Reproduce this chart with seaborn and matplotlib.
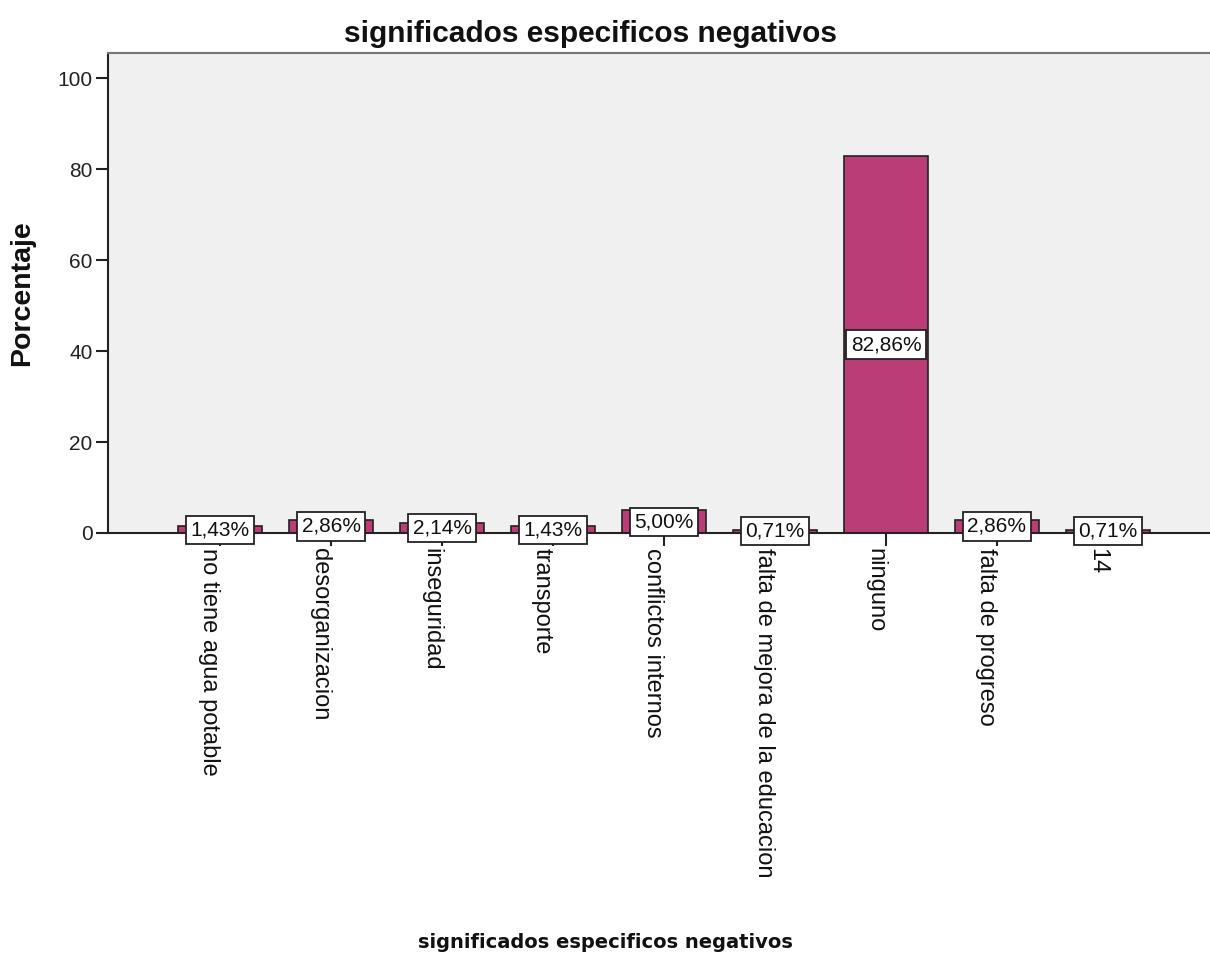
import matplotlib
matplotlib.use('Agg')
import matplotlib.pyplot as plt
import seaborn as sns
import pandas as pd

# Data
categorias = ['no tiene agua potable', 'desorganizacion', 'inseguridad', 'transporte',
              'conflictos internos', 'falta de mejora de la educacion', 'ninguno',
              'falta de progreso', '14']
porcentajes = [1.43, 2.86, 2.14, 1.43, 5.00, 0.71, 82.86, 2.86, 0.71]
y_ticks = [0, 20, 40, 60, 80, 100]

sns.set_style('white')
plt.rcParams['font.family'] = ['Liberation Sans', 'DejaVu Sans']

df = pd.DataFrame({'categoria': categorias, 'porcentaje': porcentajes})

fig = plt.figure(figsize=(12.1, 9.6), dpi=100)
ax = fig.add_axes([108 / 1210, 1 - 533 / 960, 1 - 108 / 1210, 480 / 960])
ax.set_facecolor('#F0F0F0')

sns.barplot(data=df, x='categoria', y='porcentaje', order=categorias,
            color='#BA3D78', saturation=1, width=0.76,
            edgecolor='#222222', linewidth=1.2, ax=ax)

# Value labels in white boxes at mid-height of each bar
for i, v in enumerate(porcentajes):
    ax.text(i, v / 2, f'{v:.2f}%'.replace('.', ','), ha='center', va='center',
            fontsize=15, color='#111111',
            bbox=dict(boxstyle='square,pad=0.22', facecolor='white',
                      edgecolor='#222222', linewidth=1.3))

ax.set_xlim(-1.01, 8.92)
ax.set_ylim(0, 105.5)
ax.set_yticks(y_ticks)
ax.set_yticklabels([str(t) for t in y_ticks], fontsize=15, color='#222222')
ax.set_xticks(range(len(categorias)))
ax.set_xticklabels(categorias, rotation=-90, ha='right', va='top', fontsize=17,
                   color='#111111')
ax.tick_params(axis='both', bottom=True, left=True, direction='out', length=9,
               width=1.5, color='#222222', pad=2)

for side in ['left', 'bottom']:
    ax.spines[side].set_color('#222222')
    ax.spines[side].set_linewidth(1.5)
ax.spines['top'].set_color('#777777')
ax.spines['top'].set_linewidth(1.5)
ax.spines['right'].set_visible(False)

ax.set_xlabel('')
ax.set_ylabel('')
fig.text(590 / 1210, 1 - 34 / 960, 'significados especificos negativos', ha='center',
         va='center', fontsize=21.5, fontweight='bold', color='#111111')
fig.text(0.5, 1 - 943 / 960, 'significados especificos negativos', ha='center', va='center',
         fontsize=14, fontweight='bold', family='DejaVu Sans', color='#111111')
fig.text(22 / 1210, 1 - 293 / 960, 'Porcentaje', ha='center', va='center', rotation=90,
         fontsize=20.5, fontweight='bold', color='#111111')

fig.savefig('out.png', dpi=100)
